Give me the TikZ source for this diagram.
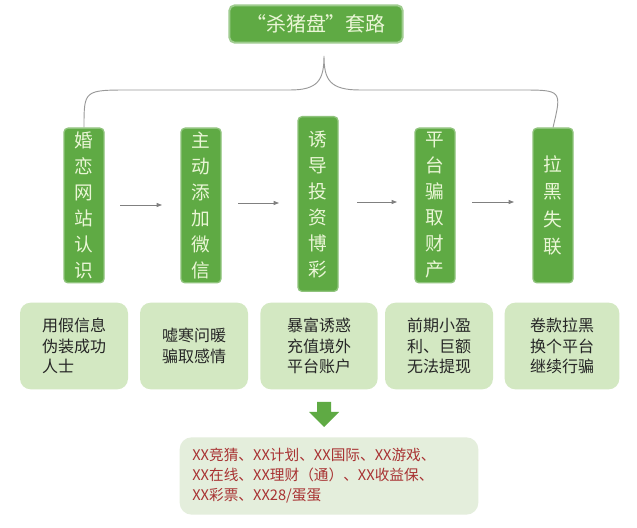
\documentclass[tikz,border=0pt]{standalone}
\usepackage{fontspec}
\setmainfont{Noto Sans CJK SC}
\usetikzlibrary{arrows.meta}
\definecolor{gr}{HTML}{5FAA44}
\definecolor{lt}{HTML}{EAF6D6}
\definecolor{pl}{HTML}{D3E8C2}
\definecolor{bt}{HTML}{E4EEDC}
\definecolor{rd}{HTML}{A83232}
\begin{document}
\begin{tikzpicture}[x=0.75pt,y=-0.75pt,
  vbox/.style={fill=gr,draw=gr!70!white,line width=1pt,rounded corners=3pt,text=lt,font=\fontsize{14}{19.5}\selectfont,align=center,inner sep=0pt,text width=30pt},
  pbox/.style={fill=pl,rounded corners=8pt,text=black!85,font=\fontsize{12}{15.5}\selectfont,align=left,inner sep=0pt},
  conn/.style={gray,line width=0.6pt,-{Triangle[length=4pt,width=3pt]}}]
\useasboundingbox[fill=white] (0,0) rectangle (637,528);
\node[fill=gr,draw=gr!60!white,line width=1.5pt,rounded corners=4pt,text=lt,font=\fontsize{15}{18}\selectfont,inner sep=0pt,minimum width=130pt,minimum height=28pt] (t) at (316,24) {“杀猪盘”套路};
\coordinate (top) at (324,56);
\node[vbox,minimum height=116pt] (a) at (84,205.5) {婚\\恋\\网\\站\\认\\识};
\node[vbox,minimum height=116pt] (b) at (201,205.5) {主\\动\\添\\加\\微\\信};
\node[vbox,minimum height=131pt] (c) at (318,204) {诱\\导\\投\\资\\博\\彩};
\node[vbox,minimum height=116pt] (d) at (435,205.5) {平\\台\\骗\\取\\财\\产};
\node[vbox,minimum height=116pt,font=\fontsize{14}{20.5}\selectfont] (e) at (553,205.5) {拉\\黑\\失\\联};
\draw[gray!80,line width=0.7pt] (a.north) .. controls (84,90) and (84,90) .. (130,90) -- (290,90) .. controls (318,90) and (324,80) .. (top) .. controls (324,80) and (330,90) .. (360,90) -- (520,90) .. controls (562,90) and (562,90) .. (e.north);
\draw[conn] (120,205) -- (162,205);
\draw[conn] (238,203) -- (279,203);
\draw[conn] (357,202) -- (397,202);
\draw[conn] (472,202) -- (514,202);
\node[pbox,minimum width=81pt,minimum height=65pt] (p1) at (74,346) {用假信息\\伪装成功\\人士};
\node[pbox,minimum width=81pt,minimum height=65pt] (p2) at (194,346) {嘘寒问暖\\骗取感情};
\node[pbox,minimum width=88pt,minimum height=65pt] (p3) at (319,346) {暴富诱惑\\充值境外\\平台账户};
\node[pbox,minimum width=81pt,minimum height=65pt] (p4) at (439,346) {前期小盈\\利、巨额\\无法提现};
\node[pbox,minimum width=86pt,minimum height=65pt] (p5) at (562,346) {卷款拉黑\\换个平台\\继续行骗};
\fill[gr] (317,402) -- (331,402) -- (331,412) -- (339,412) -- (324,427) -- (309,412) -- (317,412) -- cycle;
\node[fill=bt,rounded corners=9pt,minimum width=224pt,minimum height=58pt,text=rd,font=\fontsize{11}{15}\selectfont,align=left,inner sep=0pt,text width=205pt] (q) at (329,476) {XX竞猜、XX计划、XX国际、XX游戏、\\XX在线、XX理财（通）、XX收益保、\\XX彩票、XX28/蛋蛋};
\end{tikzpicture}
\end{document}
